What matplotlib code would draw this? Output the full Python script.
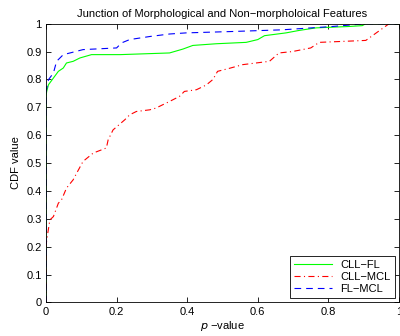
import numpy as np
import matplotlib
matplotlib.use("Agg")
import matplotlib.pyplot as plt

# curves (p-value, CDF value)
cll_fl_x = [0, 0, 0.002, 0.007, 0.021, 0.035, 0.049, 0.058, 0.077, 0.096, 0.129, 0.21,
            0.35, 0.388, 0.416, 0.482, 0.567, 0.6, 0.619, 0.68, 0.718, 0.765, 0.859,
            0.896, 0.906, 1.0]
cll_fl_y = [0, 0.74, 0.757, 0.781, 0.805, 0.829, 0.841, 0.859, 0.865, 0.877, 0.889, 0.889,
            0.895, 0.909, 0.922, 0.928, 0.933, 0.943, 0.957, 0.967, 0.976, 0.985, 0.99,
            0.993, 1.0, 1.0]

cll_mcl_x = [0, 0, 0.002, 0.011, 0.021, 0.035, 0.044, 0.058, 0.077, 0.087, 0.105, 0.134,
             0.171, 0.176, 0.19, 0.223, 0.237, 0.256, 0.294, 0.311, 0.35, 0.378, 0.392,
             0.426, 0.454, 0.473, 0.486, 0.52, 0.557, 0.595, 0.633, 0.66, 0.698, 0.75,
             0.774, 0.85, 0.906, 0.972, 1.0]
cll_mcl_y = [0, 0.2, 0.224, 0.296, 0.308, 0.356, 0.368, 0.41, 0.44, 0.464, 0.506, 0.536,
             0.554, 0.583, 0.619, 0.655, 0.673, 0.685, 0.691, 0.697, 0.721, 0.739, 0.757,
             0.763, 0.78, 0.8, 0.829, 0.84, 0.853, 0.859, 0.865, 0.895, 0.90, 0.913,
             0.933, 0.937, 0.94, 1.0, 1.0]

fl_mcl_x = [0, 0, 0.002, 0.007, 0.021, 0.03, 0.049, 0.068, 0.105, 0.2, 0.214, 0.237,
            0.294, 0.35, 0.397, 0.529, 0.669, 0.812, 0.906, 1.0]
fl_mcl_y = [0, 0.75, 0.769, 0.799, 0.823, 0.865, 0.889, 0.895, 0.907, 0.913, 0.931, 0.943,
            0.954, 0.963, 0.967, 0.972, 0.978, 0.99, 1.0, 1.0]

plt.rcParams['font.family'] = ['Liberation Sans', 'DejaVu Sans']
plt.rcParams['font.size'] = 8

fig = plt.figure(figsize=(4, 3.36), dpi=100)
ax = fig.add_axes([0.115, 0.100, 0.8825, 0.8295])

ax.plot(cll_fl_x, cll_fl_y, '-', color=(0, 1, 0), lw=0.8, label='CLL\u2212FL')
ax.plot(cll_mcl_x, cll_mcl_y, '-.', color=(1, 0, 0), lw=0.8, dashes=(5.5, 3, 1, 3),
        label='CLL\u2212MCL')
ax.plot(fl_mcl_x, fl_mcl_y, '--', color=(0, 0, 1), lw=0.8, dashes=(6, 4.5), label='FL\u2212MCL')

ax.set_xlim(0, 1)
ax.set_ylim(0, 1)
ax.set_xticks(np.arange(0, 1.01, 0.2))
ax.set_yticks(np.arange(0, 1.01, 0.1))
ax.set_xticklabels(['0', '0.2', '0.4', '0.6', '0.8', '1'])
ax.set_yticklabels(['0', '0.1', '0.2', '0.3', '0.4', '0.5', '0.6', '0.7', '0.8', '0.9', '1'])
ax.tick_params(direction='in', length=3.5, width=0.6, top=True, right=True, pad=3)
for s in ax.spines.values():
    s.set_linewidth(0.6)

ax.set_title('Junction of Morphological and Non\u2212morpholoical Features', fontsize=8, pad=5)
ax.set_xlabel('$p$ \u2212value', labelpad=2)
ax.set_ylabel('CDF value', labelpad=4)

leg = ax.legend(loc='lower right', fancybox=False, edgecolor='black', framealpha=1,
                borderaxespad=0.4, handlelength=3.4, labelspacing=0.2, borderpad=0.35)
leg.get_frame().set_linewidth(0.6)

fig.savefig('out.png', dpi=100)
